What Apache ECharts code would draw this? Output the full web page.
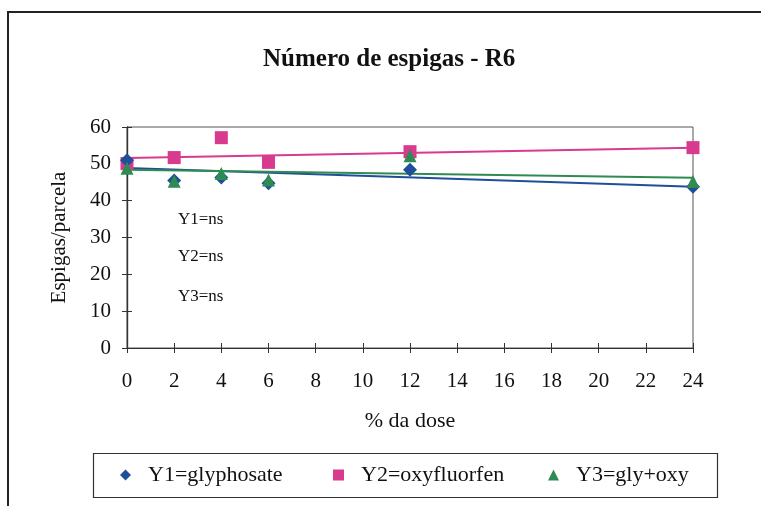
<!DOCTYPE html>
<html>
<head>
    <meta charset="utf-8" />
    <title>Número de espigas - R6</title>
    <style>
        html, body { margin: 0; padding: 0; background: #fff; }
        #chart { width: 761px; height: 506px; }
    </style>
</head>
<body>
    <div id="chart"></div>
<script src="https://cdn.jsdelivr.net/npm/echarts@6/dist/echarts.min.js"></script>
<script>
    // doses (% da dose) and values
    var doses = [0, 2, 4, 6, 12, 24];
    var y1Glyphosate = [51.0, 45.5, 46.3, 44.7, 48.4, 43.8];
    var y2Oxyfluorfen = [50.1, 51.7, 57.1, 50.4, 53.3, 54.4];
    var y3GlyOxy = [48.8, 45.3, 47.4, 45.6, 52.2, 45.2];

    // trend lines, value at dose 0 and dose 24
    var trendX = [0, 24];
    var trendY1 = [48.9, 43.8];
    var trendY2 = [51.6, 54.4];
    var trendY3 = [48.4, 46.2];

    var seriesNames = ['Y1=glyphosate', 'Y2=oxyfluorfen', 'Y3=gly+oxy'];
    var seriesIcons = ['diamond', 'rect', 'triangle'];
    var notes = ['Y1=ns', 'Y2=ns', 'Y3=ns'];

    var blue = '#1f4f98', pink = '#d83a8e', green = '#2e8b52';
    var serif = '"Liberation Serif", "DejaVu Serif", serif';

    function pairs(xs, ys) {
        var out = [];
        for (var i = 0; i < xs.length; i++) out.push([xs[i], ys[i]]);
        return out;
    }

    var chart = echarts.init(document.getElementById('chart'));

    var axisX = {
        type: 'value', min: 0, max: 24, interval: 2,
        axisLine: { onZero: false, lineStyle: { color: '#333', width: 1.2 } },
        splitLine: { show: false }
    };
    var axisY = {
        type: 'value', min: 0, max: 60, interval: 10,
        axisLine: { show: true, lineStyle: { color: '#333', width: 1.2 } },
        splitLine: { show: false }
    };

    // one legend per entry so each sits where it does in the picture
    var legendLefts = [120, 333, 548];
    var legends = seriesNames.map(function (n, i) {
        return {
            data: [{ name: n, icon: seriesIcons[i] }],
            left: legendLefts[i], top: 464, padding: 0,
            itemWidth: 11, itemHeight: 11,
            textStyle: { fontFamily: serif, fontSize: 22, color: '#111', padding: [0, 0, 0, 12] }
        };
    });

    var option = {
        animation: false,
        backgroundColor: '#fff',
        title: {
            text: 'Número de espigas - R6',
            left: 258, top: 42,
            textStyle: { fontFamily: serif, fontSize: 25, fontWeight: 'bold', color: '#111' }
        },
        grid: {
            left: 127, top: 127, right: 68, bottom: 158,
            show: true, borderColor: '#555', borderWidth: 1
        },
        legend: legends,
        xAxis: [
            Object.assign({}, axisX, {
                name: '% da dose', nameLocation: 'middle', nameGap: 62,
                nameTextStyle: { fontFamily: serif, fontSize: 22, color: '#111' },
                axisTick: { length: 5, lineStyle: { color: '#333' } },
                axisLabel: { margin: 23, fontFamily: serif, fontSize: 21, color: '#111' }
            }),
            Object.assign({}, axisX, {
                position: 'bottom',
                axisTick: { inside: true, length: 5, lineStyle: { color: '#333' } },
                axisLabel: { show: false }
            })
        ],
        yAxis: [
            Object.assign({}, axisY, {
                name: 'Espigas/parcela', nameLocation: 'middle', nameGap: 57,
                nameTextStyle: { fontFamily: serif, fontSize: 21, color: '#111' },
                axisTick: { length: 5, lineStyle: { color: '#333' } },
                axisLabel: { margin: 16, fontFamily: serif, fontSize: 21, color: '#111' }
            }),
            Object.assign({}, axisY, {
                position: 'left',
                axisTick: { inside: true, length: 5, lineStyle: { color: '#333' } },
                axisLabel: { show: false }
            })
        ],
        graphic: [
            {
                type: 'rect', silent: true, z: -1,
                shape: { x: 8, y: 12, width: 800, height: 600 },
                style: { fill: 'none', stroke: '#222', lineWidth: 2 }
            },
            {
                type: 'rect', silent: true,
                shape: { x: 93.5, y: 453.5, width: 624, height: 44 },
                style: { fill: 'none', stroke: '#333', lineWidth: 1.2 }
            },
            {
                type: 'group', left: 178, top: 211,
                children: notes.map(function (t, i) {
                    return {
                        type: 'text', x: 0, y: [0, 37, 77][i],
                        style: { text: t, font: '17px ' + serif, fill: '#111' }
                    };
                })
            }
        ],
        series: [
            {
                name: 'trend1', type: 'line', data: pairs(trendX, trendY1), showSymbol: false,
                lineStyle: { color: blue, width: 2 }, z: 1, silent: true
            },
            {
                name: 'trend2', type: 'line', data: pairs(trendX, trendY2), showSymbol: false,
                lineStyle: { color: pink, width: 2 }, z: 1, silent: true
            },
            {
                name: 'trend3', type: 'line', data: pairs(trendX, trendY3), showSymbol: false,
                lineStyle: { color: green, width: 2 }, z: 1, silent: true
            },
            {
                name: seriesNames[1], type: 'scatter', data: pairs(doses, y2Oxyfluorfen),
                symbol: 'rect', symbolSize: 13, itemStyle: { color: pink, opacity: 1 }, z: 2
            },
            {
                name: seriesNames[0], type: 'scatter', data: pairs(doses, y1Glyphosate),
                symbol: 'diamond', symbolSize: 14, itemStyle: { color: blue, opacity: 1 }, z: 3
            },
            {
                name: seriesNames[2], type: 'scatter', data: pairs(doses, y3GlyOxy),
                symbol: 'triangle', symbolSize: 13, itemStyle: { color: green, opacity: 1 }, z: 4
            }
        ]
    };

    chart.setOption(option);
</script>
</body>
</html>
